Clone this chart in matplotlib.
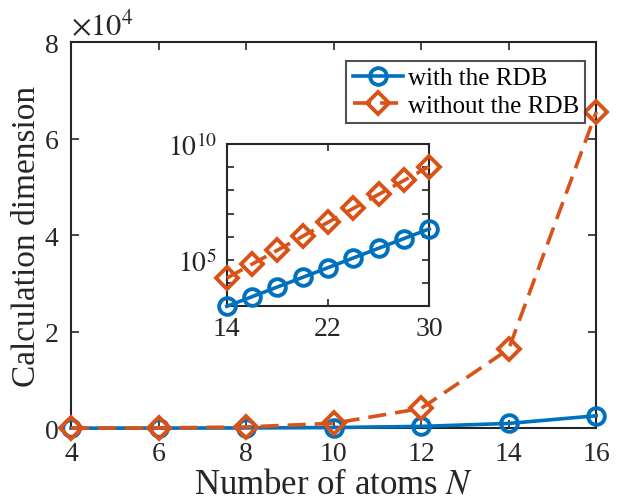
import matplotlib
matplotlib.use("Agg")
import matplotlib.pyplot as plt
from matplotlib.ticker import FuncFormatter, FixedLocator, NullLocator

plt.rcParams['font.family'] = ['Liberation Serif', 'DejaVu Serif']
plt.rcParams['mathtext.fontset'] = 'stix'

# main data
N_main = [4, 6, 8, 10, 12, 14, 16]
with_rdb = [8, 21, 55, 144, 377, 987, 2584]
without_rdb = [16, 64, 256, 1024, 4096, 16384, 65536]

# inset data
N_inset = [14, 16, 18, 20, 22, 24, 26, 28, 30]
with_rdb_inset = [987, 2584, 6765, 17711, 46368, 121393, 317811, 832040, 2178309]
without_rdb_inset = [16384, 65536, 262144, 1048576, 4194304, 16777216,
                     67108864, 268435456, 1073741824]

blue = '#0072BD'
orange = '#D95319'
dark = '#262626'

fig = plt.figure(figsize=(6.23, 5.02), dpi=100)
ax = fig.add_axes([0.114, 0.145, 0.843, 0.769])

ax.plot(N_main, with_rdb, '-o', color=blue, lw=2.6, ms=12, mew=2.8,
        mfc='none', label='with the RDB', clip_on=False, zorder=3)
ax.plot(N_main, without_rdb, '--D', color=orange, lw=2.6, ms=11.5, mew=2.8,
        mfc='none', dashes=(5, 2.5), label='without the RDB', clip_on=False,
        zorder=4)

ax.set_xlim(4, 16)
ax.set_ylim(0, 80000)
ax.set_xticks([4, 6, 8, 10, 12, 14, 16])
ax.set_yticks([0, 20000, 40000, 60000, 80000])
ax.yaxis.set_major_formatter(FuncFormatter(lambda v, p: f'{v/1e4:g}'))
ax.tick_params(direction='in', top=True, right=True, labelsize=20,
               length=6, width=1.2, color=dark, labelcolor=dark)
ax.tick_params(axis='x', pad=9)
ax.tick_params(axis='y', pad=9)
for s in ax.spines.values():
    s.set_linewidth(1.5)
    s.set_color(dark)
ax.set_xlabel(r'Number of atoms $N$', fontsize=25, color=dark, labelpad=1)
ax.set_ylabel('Calculation dimension', fontsize=24, color=dark, labelpad=2)
ax.text(0.0, 1.0, r'$\times10^4$', transform=ax.transAxes, fontsize=22,
        color=dark, ha='left', va='bottom')

leg = ax.legend(loc='upper right', bbox_to_anchor=(0.979, 0.952), fontsize=18,
                frameon=True, fancybox=False, edgecolor=dark, borderpad=0.25,
                handlelength=2.0, handletextpad=0.2, labelspacing=0.2,
                borderaxespad=0.0)
leg.get_frame().set_linewidth(1.5)

# inset
axi = fig.add_axes([0.364, 0.388, 0.325, 0.323])
axi.plot(N_inset, with_rdb_inset, '-o', color=blue, lw=2.6, ms=12, mew=2.8,
         mfc='none', clip_on=False, zorder=3)
axi.plot(N_inset, without_rdb_inset, '--D', color=orange, lw=2.6, ms=11.5,
         mew=2.8, mfc='none', dashes=(5, 2.5), clip_on=False, zorder=4)
axi.set_yscale('log')
axi.set_xlim(14, 30)
axi.set_ylim(1e3, 1e10)
axi.set_xticks([14, 22, 30])
axi.yaxis.set_major_locator(FixedLocator([1e5, 1e10]))
axi.yaxis.set_major_formatter(FuncFormatter(
    lambda v, p: {1e5: r'$10^5$', 1e10: r'$10^{10}$'}.get(v, '')))
axi.yaxis.set_minor_locator(FixedLocator([1e3, 1e4, 1e6, 1e7, 1e8, 1e9]))
axi.xaxis.set_minor_locator(NullLocator())
axi.tick_params(which='both', direction='in', top=True, right=True,
                labelsize=20, length=5, width=1.2, color=dark,
                labelcolor=dark, pad=7)
axi.tick_params(which='minor', labelleft=False)
for s in axi.spines.values():
    s.set_linewidth(1.5)
    s.set_color(dark)

fig.savefig('out.png', dpi=100)
